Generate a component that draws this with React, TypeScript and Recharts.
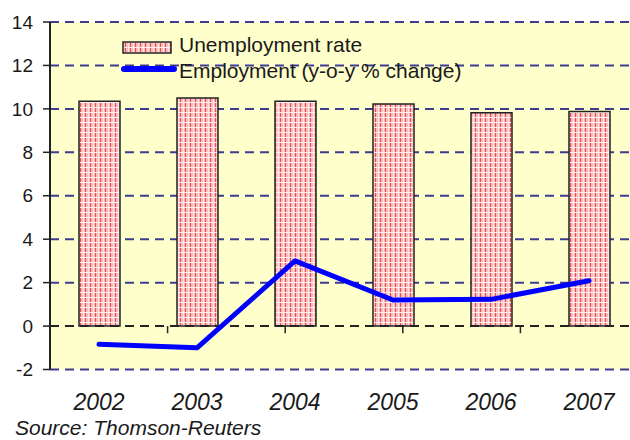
import React from 'react';
import {
  ComposedChart, Bar, Line, XAxis, YAxis, CartesianGrid, ReferenceLine, Legend,
} from 'recharts';

const years = ['2002', '2003', '2004', '2005', '2006', '2007'];
const unemploymentRate = [10.35, 10.5, 10.35, 10.22, 9.82, 9.88];
const employmentChange = [-0.84, -1.0, 3.0, 1.2, 1.23, 2.09];
const yTicks = [-2, 0, 2, 4, 6, 8, 10, 12, 14];
const gridValues = [-2, 2, 4, 6, 8, 10, 12, 14];
const categoryBoundaries = [1, 2, 3, 4, 5];
const seriesNames = ['Unemployment rate', 'Employment (y-o-y % change)'];
const sourceText = 'Source: Thomson-Reuters';

const data = years.map((year, i) => ({
  year,
  unemployment: unemploymentRate[i],
  employment: employmentChange[i],
}));

const FONT = '"Liberation Sans", Arial, sans-serif';
const TEXT = '#1a1a1a';
const GRID = '#3d3d8f';

const XTick = (props: any) => {
  const { x, y, payload } = props;
  return (
    <text x={x} y={y + 32} dy="0.355em" textAnchor="middle" fontFamily={FONT}
      fontSize={23} fontStyle="italic" fill={TEXT}>
      {payload.value}
    </text>
  );
};

const Pattern = ({ id }: { id: string }) => (
  <pattern id={id} width={5} height={5} patternUnits="userSpaceOnUse">
    <rect width={5} height={5} fill="#f9bcbc" />
    <rect x={0} width={1} height={5} fill="#ee4c4c" />
    <rect x={3} width={1} height={5} fill="#fde4e4" />
    <rect y={2} width={5} height={1} fill="#fff0f0" />
  </pattern>
);

const LegendContent = () => (
  <svg width={360} height={60} style={{ display: 'block' }}>
    <defs>
      <Pattern id="legpat" />
    </defs>
    <rect x={3} y={12} width={48} height={11} fill="url(#legpat)" stroke="#222" strokeWidth={1.5} />
    <text x={59} y={15} dy="0.355em" fontFamily={FONT} fontSize={21} fill={TEXT}>{seriesNames[0]}</text>
    <line x1={4} y1={39} x2={54} y2={39} stroke="#0000ff" strokeWidth={6} strokeLinecap="round" />
    <text x={59} y={41} dy="0.355em" fontFamily={FONT} fontSize={21} fill={TEXT}>{seriesNames[1]}</text>
  </svg>
);

export default function App() {
  return (
    <div style={{ position: 'absolute', left: 0, top: 0, width: 630, height: 440, overflow: 'hidden', background: '#fff' }}>
      <ComposedChart width={640} height={440} data={data}
        margin={{ top: 22, right: 2, bottom: 0, left: 0 }} barSize={41}>
        <defs>
          <Pattern id="barpat" />
        </defs>
        <CartesianGrid vertical={false} horizontalValues={gridValues} stroke={GRID}
          strokeWidth={2} strokeDasharray="9 6" fill="#ffffcc" />
        <XAxis dataKey="year" height={70.5} axisLine={false} tickLine={false}
          tickSize={0} tickMargin={0} tick={<XTick />} interval={0} />
        <XAxis xAxisId="n" type="number" domain={[0, 6]} allowDataOverflow hide />
        <YAxis domain={[-2, 14]} ticks={yTicks} width={50} interval={0}
          axisLine={{ stroke: '#222', strokeWidth: 2 }}
          tickLine={{ stroke: '#222', strokeWidth: 1.5 }} tickSize={7} tickMargin={10}
          tick={{ fontFamily: FONT, fontSize: 19, fill: TEXT }} />
        <Bar dataKey="unemployment" name={seriesNames[0]} fill="url(#barpat)"
          stroke="#222" strokeWidth={1.5} isAnimationActive={false} />
        <ReferenceLine y={0} stroke="#222" strokeWidth={2} strokeDasharray="9 6" />
        {categoryBoundaries.map((b) => (
          <ReferenceLine key={b} xAxisId="n" segment={[{ x: b, y: 0 }, { x: b, y: -0.33 }]}
            stroke="#222" strokeWidth={1.5} />
        ))}
        <Line dataKey="employment" name={seriesNames[1]} type="linear" stroke="#0000ff"
          strokeWidth={5} dot={false} strokeLinecap="round" strokeLinejoin="round"
          isAnimationActive={false} />
        <Legend verticalAlign="middle" align="center" content={<LegendContent />}
          wrapperStyle={{ top: 30, left: 120, width: 360, height: 60 }} />
      </ComposedChart>
      <svg width={300} height={26} style={{ position: 'absolute', left: 0, top: 412 }}>
        <text x={15} y={23} fontFamily={FONT} fontSize={21} fontStyle="italic" fill={TEXT}>
          {sourceText}
        </text>
      </svg>
    </div>
  );
}
